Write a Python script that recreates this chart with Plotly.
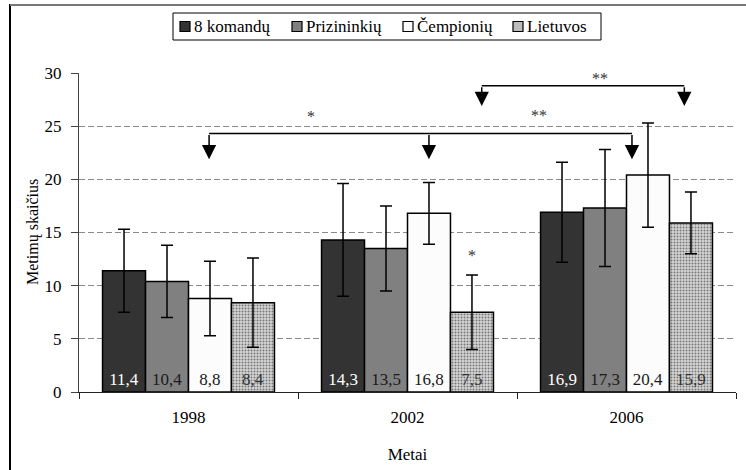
import plotly.graph_objects as go

years = ["1998", "2002", "2006"]
series_names = ["8 komandų", "Prizininkių", "Čempionių", "Lietuvos"]
values_8kom = [11.4, 14.3, 16.9]
values_priz = [10.4, 13.5, 17.3]
values_cemp = [8.8, 16.8, 20.4]
values_liet = [8.4, 7.5, 15.9]
err_8kom = [3.9, 5.3, 4.7]
err_priz = [3.4, 4.0, 5.5]
err_cemp = [3.5, 2.9, 4.9]
err_liet = [4.2, 3.5, 2.9]

# significance brackets (category units / value units)
bracket1_x = [0.094, 1.098, 2.025]
bracket1_y = 24.3
bracket1_tip = 21.9
bracket2_x = [1.339, 2.264]
bracket2_y = 28.8
bracket2_tip = 26.9
sig_labels = [("*", 0.559, 25.9), ("**", 1.60, 26.05), ("*", 1.294, 12.8)]
top_sig_label = ("**", 1.879)

FONT = "Liberation Serif"

fills = ["#333333", "#808080", "#fcfcfc", "#cfcfcf"]
text_colors = ["white", "#1a1a1a", "#1a1a1a", "#333333"]
all_vals = [values_8kom, values_priz, values_cemp, values_liet]
all_errs = [err_8kom, err_priz, err_cemp, err_liet]

W, H = 746, 470
ML, MR, MT, MB = 79, 10, 73, 78
PW, PH = W - ML - MR, H - MT - MB


def px2x(px):
    return (px - ML) / PW


def px2y(py):
    return (H - MB - py) / PH


fig = go.Figure()
for i, name in enumerate(series_names):
    marker = dict(color=fills[i], line=dict(color="black", width=1.5))
    if i == 3:
        marker["pattern"] = dict(shape=".", fgcolor="#777777", bgcolor="#d6d6d6",
                                 size=3, solidity=0.35, fillmode="replace")
    fig.add_trace(go.Bar(
        name=name, x=years, y=all_vals[i],
        marker=marker,
        error_y=dict(type="data", array=all_errs[i], color="black", thickness=1.5, width=6),
        text=[f"{v:.1f}".replace(".", ",") for v in all_vals[i]],
        textposition="inside", insidetextanchor="start", textangle=0,
        textfont=dict(family=FONT, size=17, color=text_colors[i]),
        constraintext="none", cliponaxis=False, showlegend=False,
    ))

shapes = []
annotations = []
# outer frame (left and top edges visible)
shapes.append(dict(type="line", xref="paper", yref="paper", x0=px2x(10), x1=px2x(10),
                   y0=px2y(4), y1=px2y(490), line=dict(color="black", width=2)))
shapes.append(dict(type="line", xref="paper", yref="paper", x0=px2x(10), x1=px2x(760),
                   y0=px2y(5), y1=px2y(5), line=dict(color="#777777", width=2)))

# custom legend
leg_sq_px = [180, 292, 403, 513]
shapes.append(dict(type="rect", xref="paper", yref="paper", x0=px2x(173), x1=px2x(601),
                   y0=px2y(40), y1=px2y(13), line=dict(color="black", width=1),
                   fillcolor="white"))
for i, name in enumerate(series_names):
    sx = leg_sq_px[i]
    shapes.append(dict(type="rect", xref="paper", yref="paper", x0=px2x(sx), x1=px2x(sx + 10),
                       y0=px2y(31.5), y1=px2y(21.5), line=dict(color="black", width=1.2),
                       fillcolor="#bdbdbd" if i == 3 else fills[i]))
    annotations.append(dict(x=px2x(sx + 12), y=px2y(26.5), xref="paper", yref="paper",
                            xanchor="left", yanchor="middle", text=name, showarrow=False,
                            font=dict(family=FONT, size=17, color="black")))

# y-axis title
annotations.append(dict(x=px2x(33), y=px2y(232), xref="paper", yref="paper", textangle=-90,
                        text="Metimų skaičius", showarrow=False, xanchor="center", yanchor="middle",
                        font=dict(family=FONT, size=16, color="black")))

# bracket lines
for bxs, by, btip in [(bracket1_x, bracket1_y, bracket1_tip), (bracket2_x, bracket2_y, bracket2_tip)]:
    shapes.append(dict(type="line", xref="x", yref="y", x0=bxs[0], x1=bxs[-1],
                       y0=by, y1=by, line=dict(color="black", width=1.5)))
    for bx in bxs:
        annotations.append(dict(x=bx, y=btip, ax=bx, ay=by, xref="x", yref="y",
                                axref="x", ayref="y", showarrow=True, arrowhead=2, arrowsize=1.9,
                                arrowwidth=1.5, arrowcolor="black", text="", standoff=0))
for lab, lx, ly in sig_labels:
    annotations.append(dict(x=lx, y=ly, xref="x", yref="y", text=lab, showarrow=False,
                            font=dict(family=FONT, size=16, color="#333333")))
annotations.append(dict(x=top_sig_label[1], y=px2y(68), xref="x", yref="paper",
                        text=top_sig_label[0], showarrow=False,
                        font=dict(family=FONT, size=16, color="#333333")))

fig.update_layout(
    width=W, height=H, autosize=False,
    margin=dict(l=ML, r=MR, t=MT, b=MB),
    paper_bgcolor="white", plot_bgcolor="white",
    barmode="group", bargap=0.215, bargroupgap=0,
    font=dict(family=FONT, size=16, color="black"),
    showlegend=False,
    shapes=shapes, annotations=annotations,
    xaxis=dict(range=[-0.5, 2.5], showline=True, linecolor="#222222", linewidth=1,
               ticks="outside", tickson="boundaries", ticklen=6, tickcolor="#222222",
               tickfont=dict(family=FONT, size=17), showgrid=False, automargin=False,
               ticklabelstandoff=10,
               title=dict(text="Metai", font=dict(family=FONT, size=17), standoff=21)),
    yaxis=dict(range=[0, 30], dtick=5, showline=True, linecolor="#444444", linewidth=1,
               ticks="outside", ticklen=7, tickcolor="#444444",
               tickfont=dict(family=FONT, size=17), automargin=False,
               ticklabelstandoff=6,
               showgrid=True, gridcolor="#8a8a8a", griddash="6px,3px", gridwidth=1,
               zeroline=False),
)

fig.write_html("out.html", config={"displayModeBar": False},
               post_script="document.body.style.margin='0px';")
